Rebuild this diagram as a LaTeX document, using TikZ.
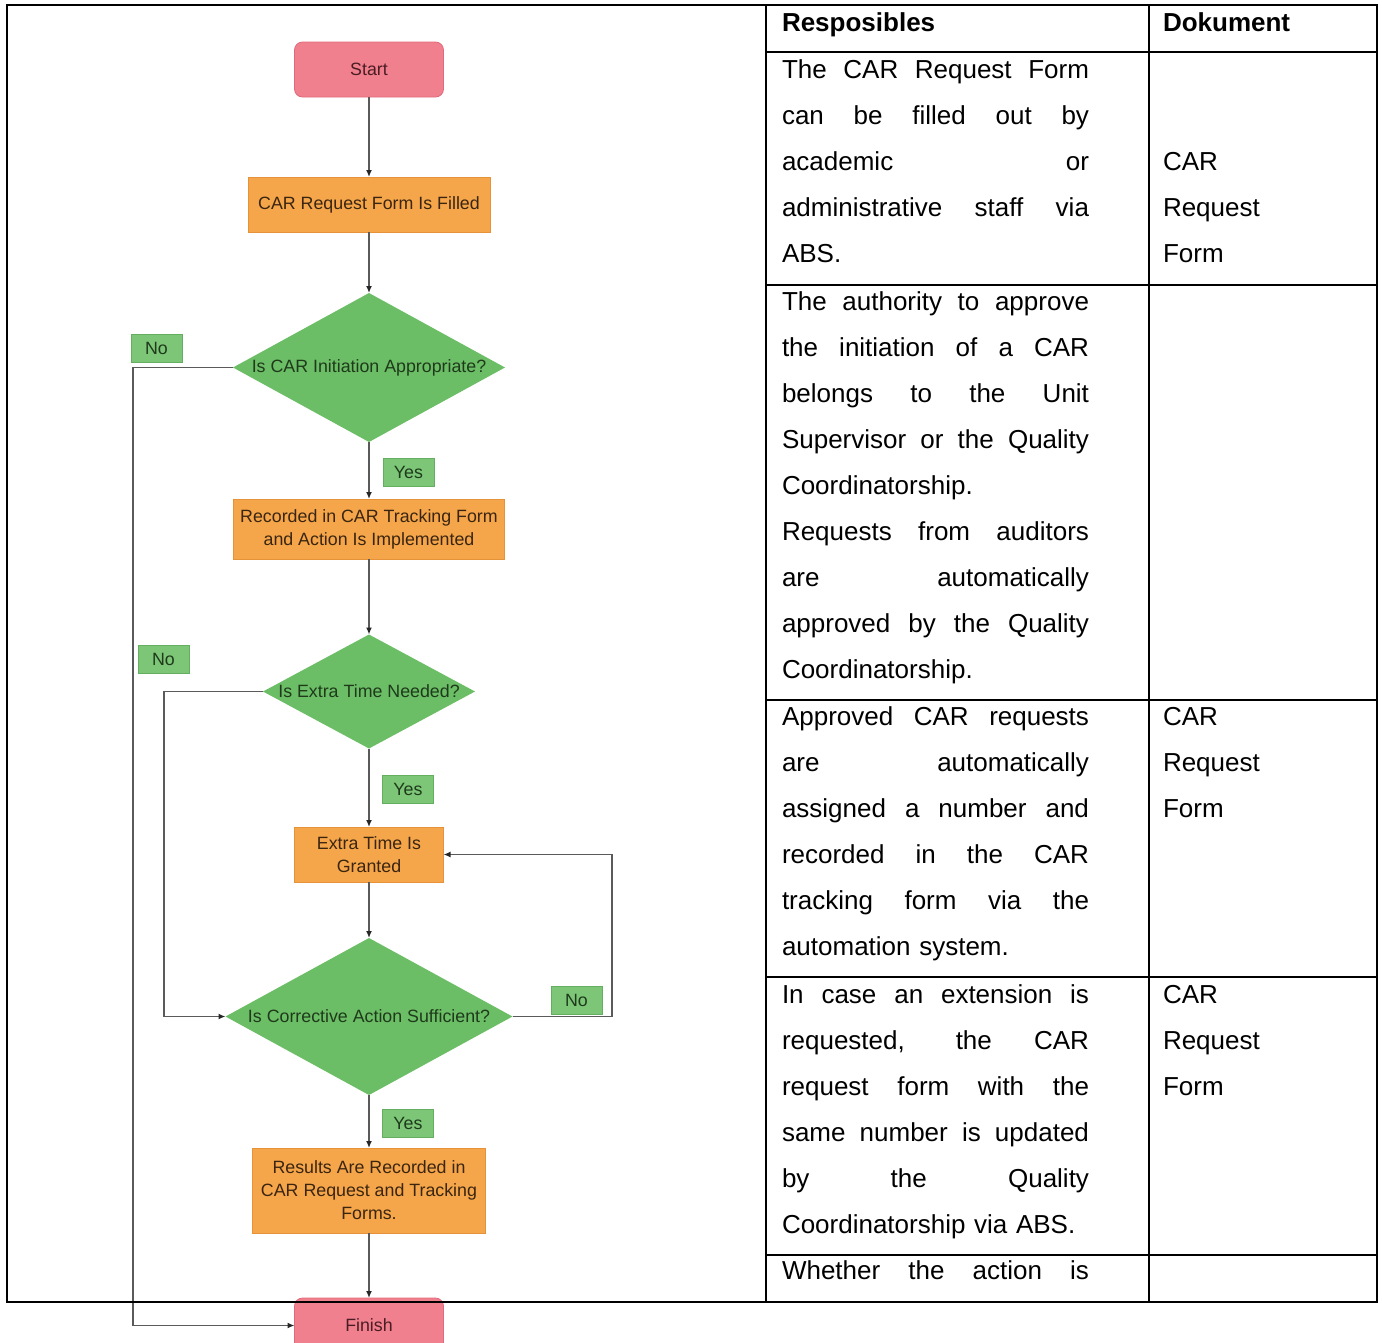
\documentclass[tikz,border=0pt]{standalone}
\usepackage{fontspec}
\setmainfont{Liberation Sans}
\usetikzlibrary{shapes.geometric,arrows.meta}
\definecolor{pinkF}{HTML}{F1808E}
\definecolor{pinkD}{HTML}{E06A7B}
\definecolor{oranF}{HTML}{F6A64A}
\definecolor{oranD}{HTML}{E6923A}
\definecolor{greF}{HTML}{6CBE66}
\definecolor{lblF}{HTML}{7DC678}
\definecolor{lblD}{HTML}{63AE5F}
\definecolor{lineC}{HTML}{5A5A5A}
\definecolor{termT}{HTML}{4A1C24}
\definecolor{procT}{HTML}{3A2510}
\definecolor{decT}{HTML}{1E3A1B}
\newcommand\justline[1]{\leavevmode\hbox to 307pt{\spaceskip=0.278em plus 1fil\xspaceskip=0.278em plus 1fil\relax #1}}
\begin{document}
\begin{tikzpicture}[x=1pt,y=-1pt,
  flow/.style={font=\fontsize{17.8}{23}\selectfont, inner sep=0pt, outer sep=0pt, align=center},
  term/.style={flow, rectangle, rounded corners=8pt, fill=pinkF, draw=pinkD, line width=0.8pt, text=termT},
  proc/.style={flow, rectangle, fill=oranF, draw=oranD, line width=0.8pt, text=procT},
  dec/.style={diamond, fill=greF, draw=none, inner sep=0pt, outer sep=0pt},
  dectext/.style={flow, text=decT},
  lbl/.style={flow, rectangle, fill=lblF, draw=lblD, line width=0.8pt, text=decT, minimum width=51pt, minimum height=28pt},
  arr/.style={draw=lineC, line width=1.5pt, -{Latex[length=7pt,width=6pt,color=black!85]}},
  tab/.style={line width=2.5pt, draw=black},
  cell/.style={anchor=base west, inner sep=0pt, outer sep=0pt, text width=307pt, align=left, font=\fontsize{26}{46}\selectfont},
  doc/.style={anchor=base west, inner sep=0pt, outer sep=0pt, text width=200pt, align=left, font=\fontsize{26}{46}\selectfont},
  head/.style={anchor=base west, inner sep=0pt, outer sep=0pt, font=\fontsize{26}{46}\selectfont\bfseries}]
\useasboundingbox (0,0) rectangle (1382,1342);
\clip (0,0) rectangle (1382,1342);

% ---------- flowchart ----------
\node[term, minimum width=149pt, minimum height=55pt] (start) at (369,69.5) {Start};
\node[proc, minimum width=242pt, minimum height=55pt] (filled) at (369,204.5) {CAR Request Form Is Filled};
\node[dec, minimum width=272pt, minimum height=149pt] (d1) at (369,367.5) {};
\node[dectext] (d1t) at (d1.center) {Is CAR Initiation Appropriate?};
\node[proc, minimum width=271pt, minimum height=60pt] (rec) at (369,529) {Recorded in CAR Tracking Form\\and Action Is Implemented};
\node[dec, minimum width=212pt, minimum height=114pt] (d2) at (369,691.5) {};
\node[dectext] (d2t) at (d2.center) {Is Extra Time Needed?};
\node[proc, minimum width=149pt, minimum height=55pt] (ext) at (369,854.5) {Extra Time Is\\Granted};
\node[dec, minimum width=287pt, minimum height=157pt] (d3) at (369,1016.5) {};
\node[dectext] (d3t) at (d3.center) {Is Corrective Action Sufficient?};
\node[proc, minimum width=233pt, minimum height=85pt] (res) at (369,1190.5) {Results Are Recorded in\\CAR Request and Tracking\\Forms.};
\node[term, minimum width=149pt, minimum height=55pt] (finish) at (369,1325.5) {Finish};

\node[lbl] (no1) at (156.5,348.5) {No};
\node[lbl] (yes1) at (408.5,472) {Yes};
\node[lbl] (no2) at (163.5,659) {No};
\node[lbl] (yes2) at (408,789) {Yes};
\node[lbl] (no3) at (576.5,1000) {No};
\node[lbl] (yes3) at (408,1123) {Yes};

\draw[arr] (start.south) -- (filled.north);
\draw[arr] (filled.south) -- (d1.north);
\draw[arr] (d1.south) -- (rec.north);
\draw[arr] (rec.south) -- (d2.north);
\draw[arr] (d2.south) -- (ext.north);
\draw[arr] (ext.south) -- (d3.north);
\draw[arr] (d3.south) -- (res.north);
\draw[arr] (res.south) -- (finish.north);

\coordinate (k1) at (133,367.5);
\coordinate (k2) at (164,691.5);
\coordinate (k3) at (612,1016.5);
\draw[arr] (d1.west) -- (k1) |- (finish.west);
\draw[arr] (d2.west) -- (k2) |- (d3.west);
\draw[arr] (d3.east) -- (k3) |- (ext.east);

% ---------- table ----------
\draw[tab] (7,5) rectangle (1377,1302);
\draw[tab] (766,5) -- (766,1302);
\draw[tab] (1149,5) -- (1149,1302);
\foreach \yy in {52,285,700,977,1255} \draw[tab] (766,\yy) -- (1377,\yy);

\node[head] (h1) at (782,31) {Resposibles};
\node[head] (h2) at (1163,31) {Dokument};

\node[cell] (r1) at (782,78) {\justline{The CAR Request Form}\\
\justline{can be filled out by}\\
\justline{academic or}\\
\justline{administrative staff via}\\
ABS.};
\node[cell] (r2) at (782,310) {\justline{The authority to approve}\\
\justline{the initiation of a CAR}\\
\justline{belongs to the Unit}\\
\justline{Supervisor or the Quality}\\
Coordinatorship.\\
\justline{Requests from auditors}\\
\justline{are automatically}\\
\justline{approved by the Quality}\\
Coordinatorship.};
\node[cell] (r3) at (782,725) {\justline{Approved CAR requests}\\
\justline{are automatically}\\
\justline{assigned a number and}\\
\justline{recorded in the CAR}\\
\justline{tracking form via the}\\
automation system.};
\node[cell] (r4) at (782,1003) {\justline{In case an extension is}\\
\justline{requested, the CAR}\\
\justline{request form with the}\\
\justline{same number is updated}\\
\justline{by the Quality}\\
Coordinatorship via ABS.};
\node[cell] (r5) at (782,1279) {\justline{Whether the action is}};

\node[doc] (c1) at (1163,170) {CAR\\Request\\Form};
\node[doc] (c3) at (1163,725) {CAR\\Request\\Form};
\node[doc] (c4) at (1163,1003) {CAR\\Request\\Form};
\end{tikzpicture}
\end{document}
